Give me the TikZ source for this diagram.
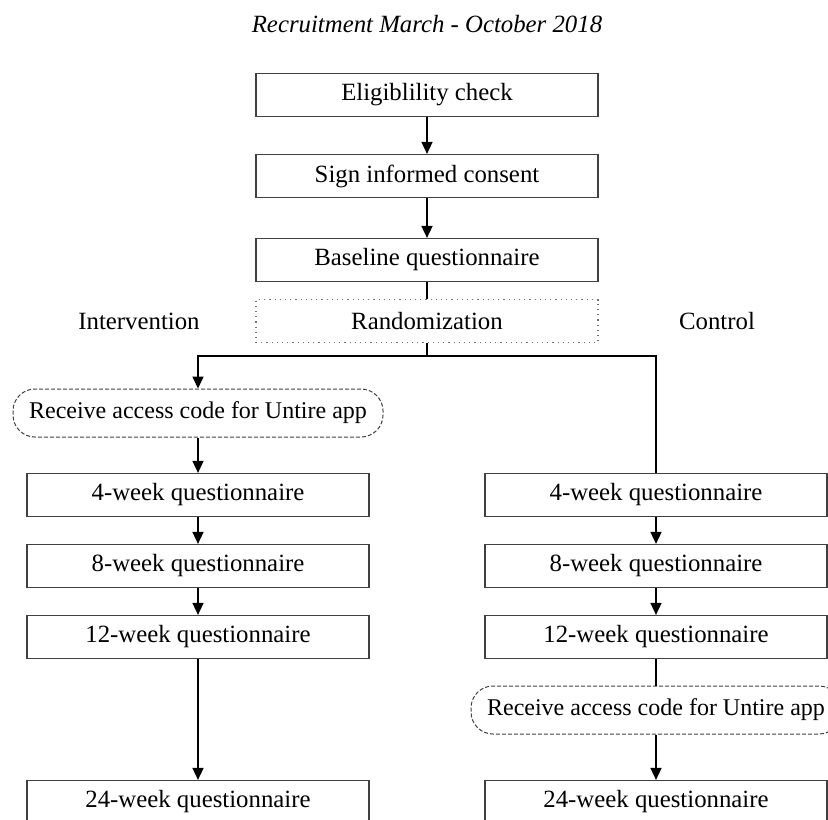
\documentclass[tikz,border=0pt]{standalone}
\usepackage{fontspec}
\setmainfont{Liberation Serif}
\usepackage{tikz}
\usetikzlibrary{shapes, arrows.meta, positioning}

\begin{document}
\begin{tikzpicture}
  [
    x=0.5pt, y=-0.5pt,
    >={Triangle[width=5.5pt, length=6pt]},
    Box/.style={rectangle, draw=black!75, line width=0.6pt, minimum width=171pt, minimum height=21.5pt, font=\fontsize{12.4}{14}\selectfont},
    Dotted/.style={Box, draw=black!55, dotted},
    Code/.style={rectangle, rounded corners=11pt, draw=black!75, line width=0.5pt, dash pattern=on 2pt off 1pt, minimum width=185pt, minimum height=24pt, inner sep=2pt, font=\fontsize{12}{14}\selectfont},
    Plain/.style={font=\fontsize{12.4}{14}\selectfont}
  ]
  \useasboundingbox (0, 0) rectangle (828, 819);
  \clip (0, 0) rectangle (828, 819);
  % Nodes
  \node[Plain, font=\fontsize{12.4}{14}\selectfont\itshape] (title) at(427, 24) {Recruitment March - October 2018};
  \node[Box] (elig) at(427, 95) {Eligiblility check};
  \node[Box] (consent) at(427, 176) {Sign informed consent};
  \node[Box] (base) at(427, 260) {Baseline questionnaire};
  \node[Dotted] (rand) at(427, 321) {Randomization};
  \node[Plain] (interv) at(139, 321) {Intervention};
  \node[Plain] (contr) at(717, 321) {Control};
  \coordinate (split) at(427, 356);
  % Intervention arm
  \node[Code] (codeL) at(198, 413) {Receive access code for Untire app};
  \node[Box] (w4L) at(198, 495) {4-week questionnaire};
  \node[Box] (w8L) at(198, 566) {8-week questionnaire};
  \node[Box] (w12L) at(198, 637) {12-week questionnaire};
  \node[Box] (w24L) at(198, 802) {24-week questionnaire};
  % Control arm
  \node[Box] (w4R) at(656, 495) {4-week questionnaire};
  \node[Box] (w8R) at(656, 566) {8-week questionnaire};
  \node[Box] (w12R) at(656, 637) {12-week questionnaire};
  \node[Code] (codeR) at(656, 710) {Receive access code for Untire app};
  \node[Box] (w24R) at(656, 802) {24-week questionnaire};
  % Lines
  \path [->, draw, thick] (elig) -- (consent);
  \path [->, draw, thick] (consent) -- (base);
  \path [draw, thick] (base) -- (rand);
  \path [draw, thick] (rand) -- (split);
  \path [->, draw, thick] (split) -| (codeL);
  \path [draw, thick] (split) -| (w4R);
  \path [->, draw, thick] (codeL) -- (w4L);
  \path [->, draw, thick] (w4L) -- (w8L);
  \path [->, draw, thick] (w8L) -- (w12L);
  \path [->, draw, thick] (w12L) -- (w24L);
  \path [->, draw, thick] (w4R) -- (w8R);
  \path [->, draw, thick] (w8R) -- (w12R);
  \path [draw, thick] (w12R) -- (codeR);
  \path [->, draw, thick] (codeR) -- (w24R);
\end{tikzpicture}
\end{document}
